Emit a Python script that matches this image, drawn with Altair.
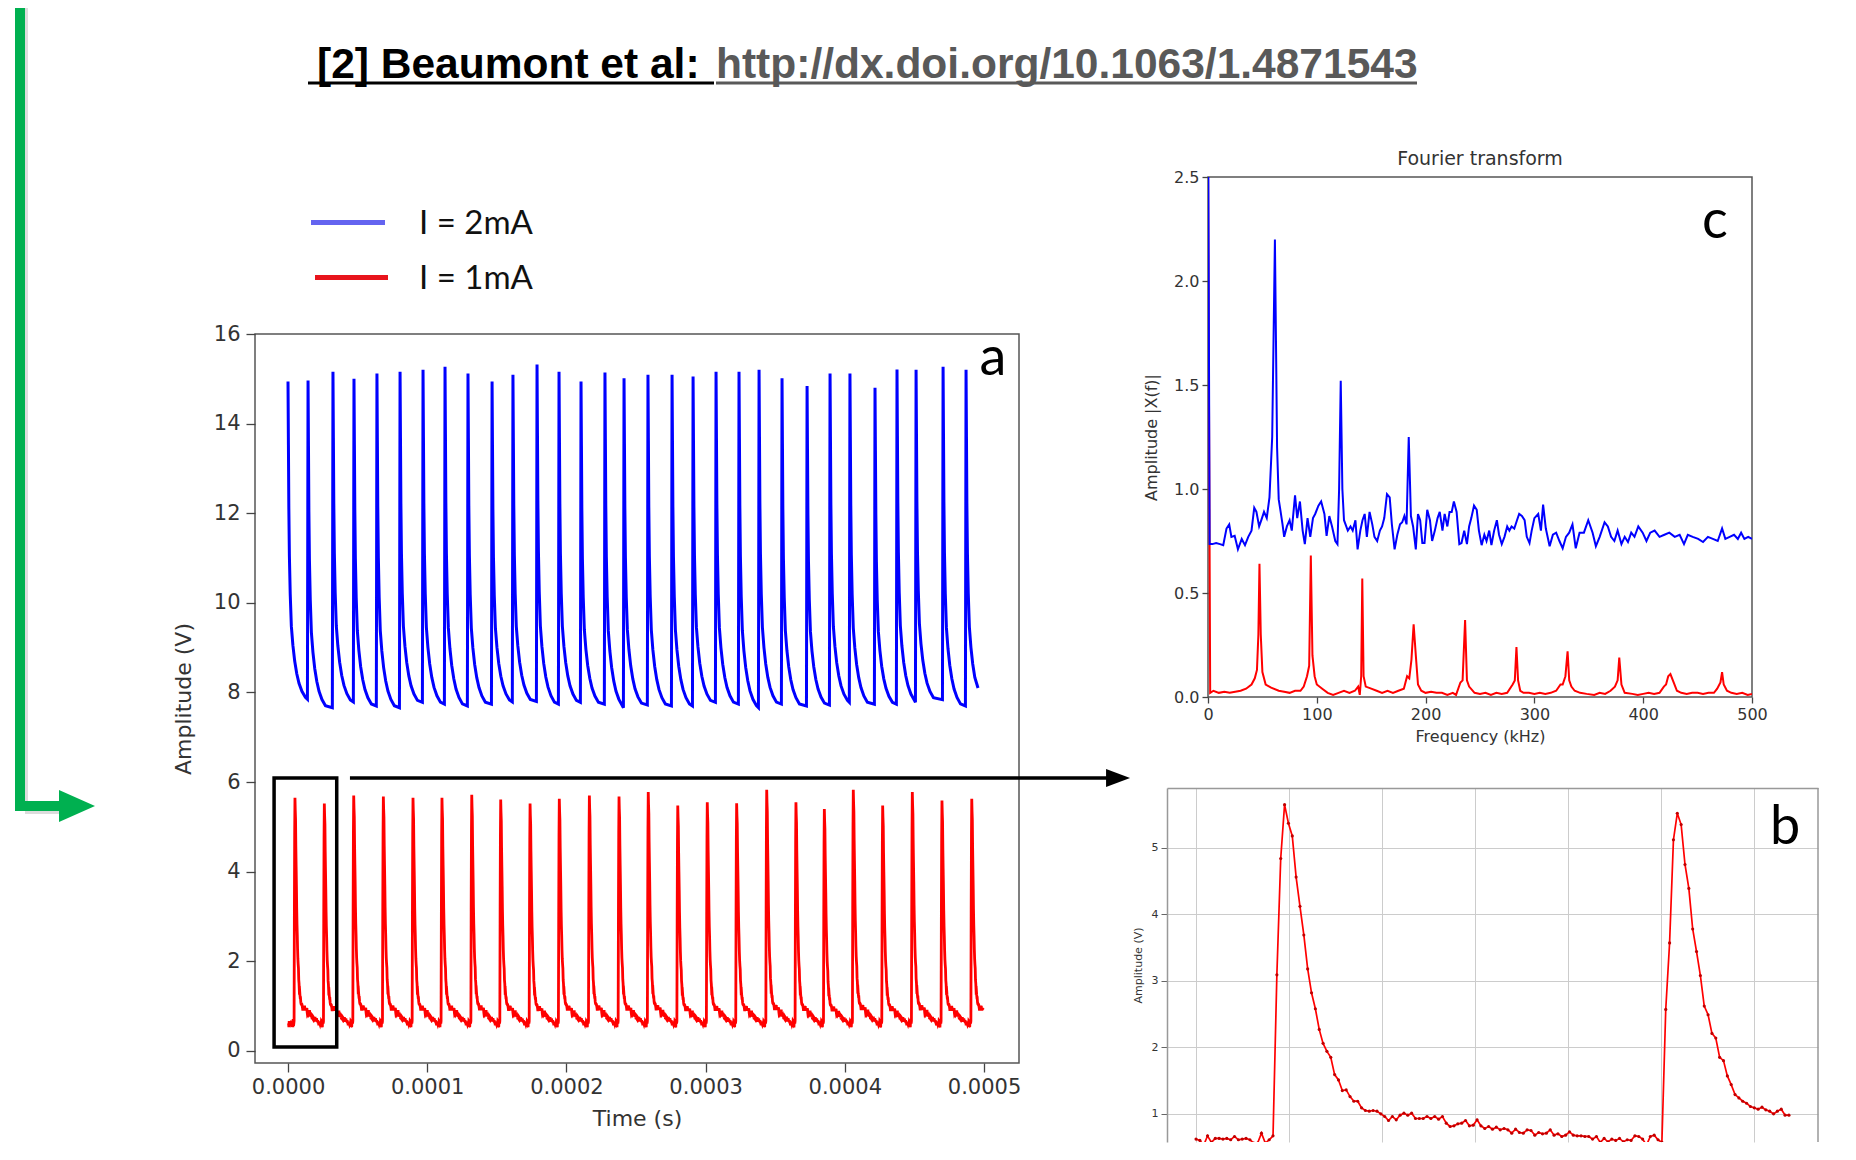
import altair as alt
import pandas as pd

# ---------------- values ----------------
# Panel a, I = 2 mA (blue): peak times (microseconds), peak / trough amplitudes (V)
blue_peak_us = [0.0, 14.4, 32.3, 47.4, 63.9, 80.5, 97.0, 112.8, 129.3, 146.6, 161.6,
                178.9, 194.7, 210.5, 227.7, 241.4, 258.6, 275.9, 291.0, 307.5, 324.0,
                338.4, 354.9, 372.9, 389.4, 403.7, 421.7, 437.5, 451.2, 470.6, 487.1]
blue_peak_v = [14.94, 14.96, 15.16, 15.00, 15.12, 15.16, 15.20, 15.27, 15.12, 14.94, 15.09,
               15.32, 15.16, 14.94, 15.14, 15.01, 15.09, 15.09, 15.05, 15.16, 15.16,
               15.20, 15.01, 14.84, 15.12, 15.12, 14.80, 15.21, 15.20, 15.27, 15.20]
blue_trough_v = [7.85, 7.66, 7.79, 7.70, 7.66, 7.78, 7.74, 7.70, 7.74, 7.79, 7.80,
                 7.74, 7.78, 7.74, 7.66, 7.72, 7.70, 7.70, 7.78, 7.74, 7.66,
                 7.74, 7.70, 7.72, 7.78, 7.74, 7.74, 7.78, 7.84, 7.70, 7.74]
blue_end_us, blue_end_v = 495.7, 8.1
# decay of one blue pulse (us after the peak, fraction of the peak-trough swing)
blue_shape_dt = [0.0, 0.3, 0.6, 1.0, 1.6, 2.4, 3.5, 4.8, 6.3, 7.9, 10.0, 12.5]
blue_shape_frac = [1.0, 0.8, 0.6, 0.45, 0.33, 0.23, 0.17, 0.12, 0.08, 0.05, 0.025, 0.006]

# Panel a, I = 1 mA (red): peak times (us) and peak amplitudes (V)
red_peak_us = [5.0, 26.1, 47.2, 68.5, 89.8, 110.6, 132.0, 152.8, 173.9, 194.9, 216.5, 237.8,
               258.8, 280.0, 301.2, 322.3, 343.9, 364.9, 385.3, 406.1, 427.2, 448.5, 469.8, 491.2]
red_peak_v = [5.65, 5.52, 5.70, 5.68, 5.65, 5.65, 5.72, 5.61, 5.52, 5.63, 5.70, 5.68,
              5.78, 5.48, 5.55, 5.53, 5.83, 5.55, 5.40, 5.83, 5.48, 5.78, 5.59, 5.63]
red_end_us = 499.3
red_base_v = 0.6

# Panel b: samples of the red signal (V), one every b_dt_us
b_dt_us = 0.207
b_vals = [0.62, 0.60, 0.53, 0.67, 0.57, 0.63, 0.63, 0.62, 0.63, 0.61, 0.66, 0.61, 0.62, 0.63,
          0.61, 0.56, 0.56, 0.71, 0.56, 0.61, 0.67,
          3.09, 4.84, 5.65, 5.37, 5.18, 4.56, 4.12, 3.69, 3.18, 2.82, 2.58, 2.27, 2.06, 1.94,
          1.85, 1.59, 1.51, 1.35, 1.36, 1.26, 1.19, 1.19, 1.09, 1.05, 1.04, 1.05, 1.04, 1.00,
          0.96, 0.90, 0.96, 0.91, 0.98, 1.01, 0.98, 1.01, 0.93, 0.93, 0.93, 0.96, 0.93, 0.96,
          0.92, 0.96, 0.86, 0.81, 0.82, 0.85, 0.86, 0.90, 0.82, 0.83, 0.91,
          0.82, 0.78, 0.81, 0.77, 0.80, 0.76, 0.78, 0.76, 0.71, 0.77, 0.72, 0.71, 0.76, 0.75,
          0.68, 0.72, 0.70, 0.71, 0.76, 0.68, 0.70, 0.66, 0.68, 0.73, 0.68, 0.67, 0.67, 0.66,
          0.66, 0.62, 0.66, 0.57, 0.63, 0.58, 0.62, 0.60, 0.63, 0.58, 0.61, 0.60, 0.67, 0.66,
          0.62, 0.53, 0.66, 0.68, 0.61, 0.57,
          2.57, 3.57, 5.12, 5.52, 5.35, 4.75, 4.39, 3.78, 3.44, 3.08, 2.62, 2.49, 2.21, 2.14,
          1.85, 1.80, 1.57, 1.44, 1.29, 1.24, 1.19, 1.16, 1.11, 1.09, 1.07, 1.10, 1.06, 1.04,
          1.00, 1.04, 1.07, 0.98, 0.98]

# Panel c: Fourier transform (kHz, amplitude)
blue_fft = [(0, 3.0), (1.5, 0.735), (4, 0.735), (7.5, 0.74), (11, 0.735), (14, 0.73), (17, 0.81),
            (19.5, 0.83), (21.5, 0.77), (24.5, 0.775), (27.5, 0.71), (31, 0.76), (34, 0.73),
            (37, 0.77), (40, 0.80), (42.5, 0.91), (44.5, 0.89), (47, 0.82), (49, 0.85), (51.5, 0.89),
            (54, 0.86), (56.5, 0.96), (59, 1.25), (61.5, 2.2), (63.5, 1.2), (65, 0.95), (66.5, 0.90),
            (68.5, 0.83), (70, 0.77), (72.5, 0.82), (75, 0.85), (77, 0.80), (80, 0.97), (82, 0.86),
            (84.5, 0.94), (87, 0.80), (89, 0.735), (91.5, 0.86), (94, 0.77), (96.5, 0.86),
            (98.5, 0.88), (101.5, 0.92), (104, 0.94), (107, 0.88), (109, 0.775), (111.5, 0.87),
            (114, 0.82), (117, 0.75), (119, 0.735), (120.5, 1.0), (122, 1.52), (123.5, 1.0),
            (125, 0.85), (128.5, 0.80), (131, 0.82), (133, 0.80), (135.5, 0.85), (137.5, 0.71),
            (140, 0.80), (142, 0.85), (144, 0.88), (146, 0.77), (148.5, 0.89), (151, 0.83),
            (153, 0.77), (155.5, 0.75), (158, 0.80), (160, 0.82), (162, 0.86), (164.5, 0.975),
            (167, 0.96), (169, 0.83), (171.5, 0.71), (174, 0.78), (176.5, 0.83), (178.5, 0.84),
            (180.5, 0.87), (182.5, 0.83), (184.5, 1.25), (186.5, 0.87), (188.5, 0.82), (191, 0.71),
            (193, 0.88), (195, 0.85), (197, 0.74), (199, 0.74), (201.5, 0.90), (204, 0.85),
            (206, 0.75), (208.5, 0.80), (211, 0.86), (213, 0.89), (215.5, 0.80), (217.5, 0.88),
            (220, 0.82), (222, 0.89), (224, 0.89), (226, 0.94), (228.5, 0.89), (231, 0.735),
            (233, 0.74), (235.5, 0.80), (238, 0.735), (240, 0.82), (242, 0.86), (244.5, 0.92),
            (247, 0.90), (249, 0.80), (251.5, 0.73), (254, 0.78), (256, 0.75), (258.5, 0.80),
            (260.5, 0.73), (263, 0.80), (265.5, 0.85), (267.5, 0.78), (270, 0.735), (272.5, 0.77),
            (275, 0.82), (277, 0.80), (279, 0.82), (281.5, 0.81), (284, 0.85), (286, 0.88),
            (288.5, 0.87), (291, 0.85), (293, 0.77), (295.5, 0.74), (297.5, 0.80), (300, 0.86),
            (303.5, 0.88), (306, 0.80), (308, 0.925), (310.5, 0.81), (314, 0.725), (317, 0.78),
            (320, 0.79), (323, 0.75), (326, 0.715), (329, 0.77), (332, 0.79), (335, 0.83),
            (338, 0.715), (341.5, 0.79), (345.5, 0.79), (349.5, 0.85), (353.5, 0.79),
            (356.5, 0.725), (360, 0.77), (364.5, 0.84), (367.5, 0.82), (370.5, 0.77),
            (373.5, 0.75), (376.5, 0.80), (380, 0.735), (383, 0.77), (386, 0.745), (389, 0.79),
            (392, 0.77), (395.5, 0.82), (399.5, 0.79), (403, 0.75), (406.5, 0.79), (410.5, 0.80),
            (415, 0.77), (419.5, 0.78), (424, 0.79), (429, 0.77), (433.5, 0.78), (437.5, 0.735),
            (441, 0.78), (445.5, 0.77), (450.5, 0.76), (455, 0.745), (459.5, 0.77), (464, 0.76),
            (468.5, 0.75), (472.5, 0.81), (475.5, 0.76), (479.5, 0.77), (483.5, 0.78), (487, 0.76),
            (490, 0.79), (493, 0.76), (496.5, 0.77), (500, 0.76)]
red_fft = [(0, 2.6), (2, 0.02), (5, 0.03), (10, 0.02), (15, 0.025), (20, 0.02), (25, 0.025),
           (30, 0.03), (35, 0.04), (40, 0.06), (43, 0.09), (45, 0.13), (46.3, 0.3), (47.3, 0.64),
           (48.5, 0.3), (50, 0.12), (53, 0.06), (58, 0.045), (65, 0.03), (70, 0.025), (75, 0.02),
           (80, 0.03), (85, 0.03), (88, 0.05), (91, 0.1), (93, 0.15), (94.5, 0.68), (96, 0.2),
           (98, 0.1), (100, 0.06), (105, 0.04), (110, 0.02), (115, 0.01), (120, 0.02), (125, 0.03),
           (130, 0.02), (135, 0.03), (138, 0.05), (139.5, 0.01), (140.8, 0.1), (141.8, 0.57),
           (143, 0.1), (145, 0.05), (150, 0.04), (155, 0.03), (160, 0.02), (165, 0.03), (170, 0.02),
           (175, 0.03), (180, 0.04), (183, 0.1), (185, 0.09), (187, 0.18), (189, 0.35), (191, 0.2),
           (193, 0.06), (196, 0.03), (200, 0.02), (205, 0.025), (210, 0.02), (215, 0.02), (220, 0.01),
           (225, 0.02), (228, 0.01), (232, 0.07), (234, 0.08), (236.3, 0.37), (238, 0.08), (240, 0.05),
           (245, 0.02), (250, 0.015), (255, 0.02), (260, 0.01), (265, 0.02), (270, 0.015), (275, 0.02),
           (280, 0.06), (282, 0.08), (283.5, 0.24), (285, 0.08), (287, 0.03), (290, 0.02), (295, 0.02),
           (300, 0.015), (305, 0.02), (310, 0.015), (315, 0.02), (320, 0.03), (324, 0.06), (326, 0.06),
           (328.5, 0.1), (330.5, 0.22), (332, 0.08), (334, 0.05), (337, 0.03), (342, 0.02),
           (348, 0.015), (355, 0.01), (360, 0.02), (365, 0.015), (370, 0.03), (374, 0.05),
           (376.5, 0.08), (378, 0.19), (380, 0.06), (383, 0.02), (390, 0.015), (395, 0.01),
           (400, 0.015), (405, 0.02), (410, 0.015), (415, 0.02), (419, 0.05), (421, 0.06), (423, 0.1),
           (425, 0.11), (428, 0.07), (431, 0.03), (435, 0.02), (440, 0.015), (445, 0.02), (450, 0.02),
           (455, 0.015), (460, 0.02), (465, 0.02), (468, 0.04), (471, 0.07), (472.5, 0.12),
           (474, 0.06), (477, 0.03), (481, 0.02), (486, 0.015), (491, 0.02), (496, 0.01), (500, 0.015)]

# tick values
a_x_ticks = [0, 0.0001, 0.0002, 0.0003, 0.0004, 0.0005]
a_y_ticks = [0, 2, 4, 6, 8, 10, 12, 14, 16]
c_x_ticks = [0, 100, 200, 300, 400, 500]
c_y_ticks = [0, 0.5, 1.0, 1.5, 2.0, 2.5]
b_y_ticks = [1, 2, 3, 4, 5]
b_grid_us = [0, 5, 10, 15, 20, 25, 30]

# texts
title_black = "[2] Beaumont et al:"
title_url = "http://dx.doi.org/10.1063/1.4871543"
legend_labels = ["I = 2mA", "I = 1mA"]

# ---------------- build the traces ----------------
blue_rows = []
nb = len(blue_peak_us)
for k in range(nb):
    tp, P, T = blue_peak_us[k], blue_peak_v[k], blue_trough_v[k]
    nxt = blue_peak_us[k + 1] if k + 1 < nb else blue_end_us
    for dt, f in zip(blue_shape_dt, blue_shape_frac):
        if tp + dt < nxt - 0.7:
            blue_rows.append((tp + dt, T + f * (P - T)))
    if k + 1 < nb:
        blue_rows.append((nxt - 0.45, T))
    else:
        blue_rows.append((blue_end_us, blue_end_v))
blue_df = pd.DataFrame(blue_rows, columns=["us", "v"])
blue_df["t"] = blue_df["us"] * 1e-6

tmpl = b_vals[20:121]          # one period of the 1 mA signal (panel b), peak at index 3
tmpl_peak = max(tmpl)
red_rows = []
for i in range(20):
    red_rows.append((red_peak_us[0] - (23 - i) * b_dt_us, b_vals[i]))
nr = len(red_peak_us)
for k in range(nr):
    tp, pk = red_peak_us[k], red_peak_v[k]
    gain = (pk - red_base_v) / (tmpl_peak - red_base_v)
    if k + 1 < nr:
        step = (red_peak_us[k + 1] - tp) / len(tmpl)
        count = len(tmpl)
    else:
        step = b_dt_us
        count = min(len(tmpl), int((red_end_us - tp) / step) + 4)
    for j in range(count):
        red_rows.append((tp + (j - 3) * step, red_base_v + (tmpl[j] - red_base_v) * gain))
red_df = pd.DataFrame(red_rows, columns=["us", "v"])
red_df["t"] = red_df["us"] * 1e-6

b_df = pd.DataFrame({"t": [i * b_dt_us for i in range(len(b_vals))], "v": b_vals})
bf_df = pd.DataFrame(blue_fft, columns=["f", "a"])
rf_df = pd.DataFrame(red_fft, columns=["f", "a"])

one = pd.DataFrame({"k": [0]})
FONT = "DejaVu Sans"


def spacer(w, h):
    return alt.Chart(one).mark_point(opacity=0).encode(
        x=alt.value(w / 2), y=alt.value(h / 2)).properties(width=w, height=h)


def block(color, x, x2, y, y2):
    return alt.Chart(one).mark_rect(color=color, opacity=1).encode(
        x=alt.value(x), x2=alt.value(x2), y=alt.value(y), y2=alt.value(y2))


# ---------------- green arrow cell ----------------
GREEN = "#00b050"
green_cell = alt.layer(
    block("#dcdcdc", 17, 20, 0, 806),
    block("#dcdcdc", 17, 54, 803, 806),
    block(GREEN, 7, 17, 0, 803),
    block(GREEN, 7, 56, 793, 803),
    alt.Chart(one).mark_point(shape="M -1 -0.89 L 1 0 L -1 0.89 Z", filled=True, size=1296,
                              color=GREEN, opacity=1, strokeWidth=0).encode(
        x=alt.value(69), y=alt.value(798)),
).properties(width=99, height=820)

# ---------------- header: title + legend ----------------
header = alt.layer(
    alt.Chart(one).mark_text(text=title_black, font="Liberation Sans", fontWeight="bold",
                             fontSize=42.5, align="left", baseline="alphabetic", color="#000000").encode(
        x=alt.value(62), y=alt.value(70)),
    alt.Chart(one).mark_text(text=title_url, font="Liberation Sans", fontWeight="bold",
                             fontSize=42.5, align="left", baseline="alphabetic", color="#595959").encode(
        x=alt.value(461), y=alt.value(70)),
    alt.Chart(one).mark_rule(color="#000000", strokeWidth=3).encode(
        x=alt.value(53), x2=alt.value(459), y=alt.value(75)),
    alt.Chart(one).mark_rule(color="#595959", strokeWidth=3).encode(
        x=alt.value(461), x2=alt.value(1162), y=alt.value(75)),
    alt.Chart(one).mark_rule(color="#6464f0", strokeWidth=5).encode(
        x=alt.value(56), x2=alt.value(130), y=alt.value(214.5)),
    alt.Chart(one).mark_rule(color="#e8141c", strokeWidth=5).encode(
        x=alt.value(60), x2=alt.value(133), y=alt.value(269.5)),
    alt.Chart(one).mark_text(text=legend_labels[0], font="Lato", fontSize=33, align="left",
                             baseline="middle", color="#111111").encode(
        x=alt.value(164), y=alt.value(215.5)),
    alt.Chart(one).mark_text(text=legend_labels[1], font="Lato", fontSize=33, align="left",
                             baseline="middle", color="#111111").encode(
        x=alt.value(164), y=alt.value(270.5)),
).properties(width=764, height=326)

# ---------------- panel a ----------------
ax_common = dict(labelFont=FONT, titleFont=FONT, labelColor="#333333", titleColor="#333333",
                 titleFontWeight="normal", tickColor="#444444", tickWidth=1.3, domain=False, grid=False)
xa_scale = alt.Scale(domain=[-2.371e-5, 5.2514e-4], nice=False, zero=False)
ya_scale = alt.Scale(domain=[-0.268, 16.0], nice=False, zero=False)
xa = alt.X("t:Q", scale=xa_scale,
           axis=alt.Axis(values=a_x_ticks, format=".4f", title="Time (s)", labelFontSize=21,
                         titleFontSize=22, tickSize=9, labelPadding=4, titlePadding=11,
                         labelFlush=False, **ax_common))
ya = alt.Y("v:Q", scale=ya_scale,
           axis=alt.Axis(values=a_y_ticks, title="Amplitude (V)", labelFontSize=21,
                         titleFontSize=22, tickSize=9, labelPadding=6, titlePadding=18, **ax_common))

ann_rect = pd.DataFrame({"t": [-1.0e-5], "t2": [3.5e-5], "v": [0.09], "v2": [6.09]})
ann_line = pd.DataFrame({"t": [4.45e-5], "t2": [5.89e-4], "v": [6.09]})
ann_head = pd.DataFrame({"t": [5.963e-4], "v": [6.09]})

panel_a = alt.layer(
    alt.Chart(blue_df).mark_line(color="#0000ff", strokeWidth=3).encode(x=xa, y=ya),
    alt.Chart(red_df).mark_line(color="#ff0000", strokeWidth=2.8).encode(
        x=alt.X("t:Q", scale=xa_scale), y=alt.Y("v:Q", scale=ya_scale)),
    alt.Chart(ann_rect).mark_rect(fillOpacity=0, stroke="#000000", strokeWidth=3.5).encode(
        x=alt.X("t:Q", scale=xa_scale), x2="t2:Q",
        y=alt.Y("v:Q", scale=ya_scale), y2="v2:Q"),
    alt.Chart(ann_line).mark_rule(color="#000000", strokeWidth=3.5).encode(
        x=alt.X("t:Q", scale=xa_scale), x2="t2:Q", y=alt.Y("v:Q", scale=ya_scale)),
    alt.Chart(ann_head).mark_point(shape="M -1 -0.75 L 1 0 L -1 0.75 Z", filled=True, size=576,
                                   color="#000000", opacity=1, strokeWidth=0).encode(
        x=alt.X("t:Q", scale=xa_scale), y=alt.Y("v:Q", scale=ya_scale)),
    alt.Chart(one).mark_text(text="a", font="Lato", fontSize=54, align="center",
                             baseline="alphabetic", color="#000000").encode(
        x=alt.value(738), y=alt.value(41)),
).properties(width=764, height=729,
             view=alt.ViewBackground(stroke="#555555", strokeWidth=1.5))

left_col = alt.vconcat(header, panel_a, spacing=0, bounds="flush")

# ---------------- panel c ----------------
xc_scale = alt.Scale(domain=[0, 500], nice=False, zero=False)
yc_scale = alt.Scale(domain=[0, 2.5], nice=False, zero=False)
xc = alt.X("f:Q", scale=xc_scale,
           axis=alt.Axis(values=c_x_ticks, title="Frequency (kHz)", labelFontSize=16,
                         titleFontSize=16, tickSize=6, labelPadding=3, titlePadding=6,
                         labelFlush=False, **ax_common))
yc = alt.Y("a:Q", scale=yc_scale,
           axis=alt.Axis(values=c_y_ticks, format=".1f", title="Amplitude |X(f)|", labelFontSize=16,
                         titleFontSize=16, tickSize=6, labelPadding=3, titlePadding=14, **ax_common))
panel_c = alt.layer(
    alt.Chart(rf_df).mark_line(color="#ff0000", strokeWidth=2, clip=True).encode(x=xc, y=yc),
    alt.Chart(bf_df).mark_line(color="#0000ff", strokeWidth=2, clip=True).encode(
        x=alt.X("f:Q", scale=xc_scale), y=alt.Y("a:Q", scale=yc_scale)),
    alt.Chart(one).mark_text(text="c", font="Lato", fontSize=54, align="center",
                             baseline="alphabetic", color="#000000").encode(
        x=alt.value(507), y=alt.value(61)),
).properties(width=544, height=520,
             title=alt.TitleParams("Fourier transform", font=FONT, fontSize=19, fontWeight="normal",
                                   color="#333333", offset=0, anchor="middle"),
             view=alt.ViewBackground(stroke="#555555", strokeWidth=1.5))

# ---------------- panel b ----------------
B_W, B_H = 651, 354
xb_scale = alt.Scale(domain=[-1.56, 33.44], nice=False, zero=False)
yb_scale = alt.Scale(domain=[5.9 - B_H / 66.5, 5.9], nice=False, zero=False)
xb = alt.X("t:Q", scale=xb_scale,
           axis=alt.Axis(orient="top", values=b_grid_us, labels=False, ticks=False, domain=True,
                         domainColor="#999999", domainWidth=1.5, grid=True, gridColor="#cccccc",
                         gridWidth=1, title=None))
yb = alt.Y("v:Q", scale=yb_scale,
           axis=alt.Axis(values=b_y_ticks, title="Amplitude (V)", labelFont=FONT, titleFont=FONT,
                         labelFontSize=11, titleFontSize=11, titleFontWeight="normal",
                         labelColor="#333333", titleColor="#333333", tickSize=6, tickColor="#666666",
                         labelPadding=3, titlePadding=8, domain=True, domainColor="#999999",
                         domainWidth=1.5, grid=True, gridColor="#cccccc", gridWidth=1))
panel_b = alt.layer(
    alt.Chart(b_df).mark_line(color="#ff0000", strokeWidth=1.7, clip=True,
                              point=alt.OverlayMarkDef(color="#c00000", size=10, filled=True)).encode(
        x=xb, y=yb),
    alt.Chart(one).mark_rule(color="#999999", strokeWidth=1.5).encode(
        x=alt.value(B_W), y=alt.value(0), y2=alt.value(B_H)),
    alt.Chart(one).mark_text(text="b", font="Lato", fontSize=54, align="center",
                             baseline="alphabetic", color="#000000").encode(
        x=alt.value(618), y=alt.value(55.5)),
).properties(width=B_W, height=B_H)

# nested concats count as zero size in a flush layout, so spacers carry the offsets
c_row = alt.hconcat(spacer(41, 520), panel_c, spacing=0, bounds="flush")
right_col = alt.vconcat(spacer(1, 169), c_row, spacer(1, 611), panel_b, spacing=0, bounds="flush")

chart = alt.hconcat(green_cell, left_col, spacer(616, 10), right_col,
                    spacing=148, bounds="flush").properties(
    padding=0
).configure_view(strokeWidth=0).configure_axis(labelFont=FONT, titleFont=FONT)

chart.save("out.html", embed_options={"renderer": "svg", "actions": False})
